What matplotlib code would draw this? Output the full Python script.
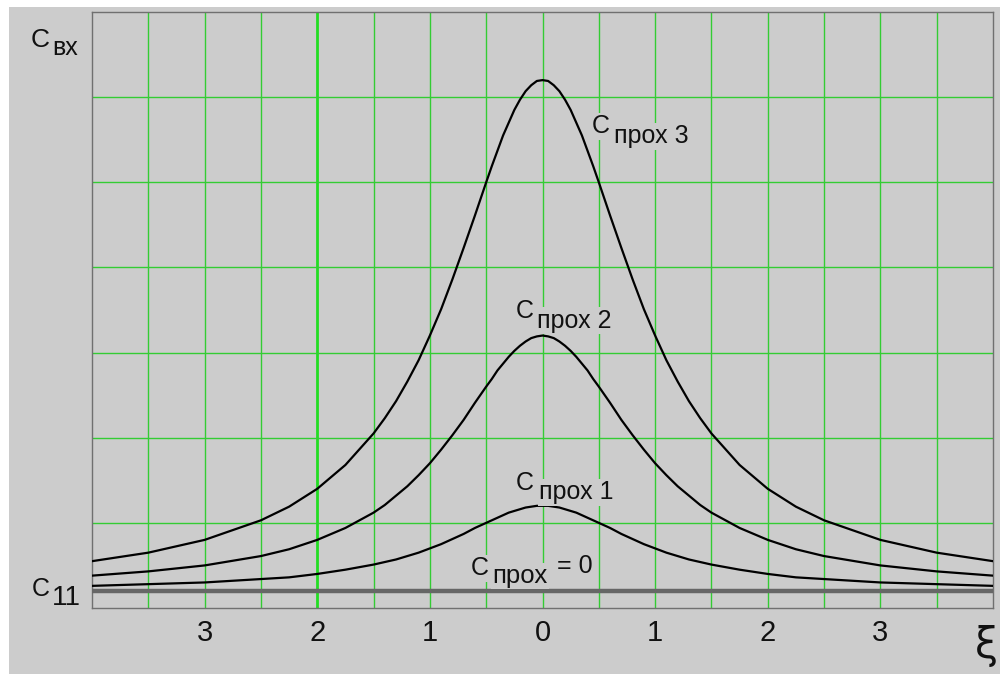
import matplotlib
matplotlib.use("Agg")
import matplotlib.pyplot as plt
from matplotlib.patches import Rectangle

# ---- data ----
xi = [-4.0, -3.5, -3.0, -2.5, -2.25, -2.0, -1.75, -1.5, -1.4, -1.3, -1.2, -1.1,
      -1.0, -0.9, -0.8, -0.7, -0.6, -0.5, -0.45, -0.4, -0.35, -0.3, -0.25, -0.2,
      -0.15, -0.1, -0.05, 0.0,
      0.05, 0.1, 0.15, 0.2, 0.25, 0.3, 0.35, 0.4, 0.45, 0.5, 0.6, 0.7, 0.8, 0.9,
      1.0, 1.1, 1.2, 1.3, 1.4, 1.5, 1.75, 2.0, 2.25, 2.5, 3.0, 3.5, 4.0]

c_prox3 = [0.55, 0.65, 0.80, 1.03, 1.19, 1.40, 1.68, 2.05, 2.23, 2.43, 2.66, 2.91,
           3.20, 3.51, 3.86, 4.23, 4.61, 5.00, 5.19, 5.37, 5.55, 5.70, 5.85, 5.97,
           6.07, 6.14, 6.19, 6.20,
           6.19, 6.14, 6.07, 5.97, 5.85, 5.70, 5.55, 5.37, 5.19, 5.00, 4.61, 4.23, 3.86, 3.51,
           3.20, 2.91, 2.66, 2.43, 2.23, 2.05, 1.68, 1.40, 1.19, 1.03, 0.80, 0.65, 0.55]

c_prox2 = [0.38, 0.43, 0.50, 0.61, 0.69, 0.80, 0.94, 1.12, 1.21, 1.32, 1.43, 1.56,
           1.70, 1.86, 2.03, 2.21, 2.41, 2.60, 2.69, 2.79, 2.87, 2.95, 3.02, 3.08,
           3.13, 3.17, 3.19, 3.20,
           3.19, 3.17, 3.13, 3.08, 3.02, 2.95, 2.87, 2.79, 2.69, 2.60, 2.41, 2.21, 2.03, 1.86,
           1.70, 1.56, 1.43, 1.32, 1.21, 1.12, 0.94, 0.80, 0.69, 0.61, 0.50, 0.43, 0.38]

c_prox1 = [0.26, 0.28, 0.30, 0.34, 0.36, 0.40, 0.45, 0.51, 0.54, 0.57, 0.61, 0.65,
           0.70, 0.75, 0.81, 0.87, 0.94, 1.00, 1.03, 1.06, 1.09, 1.12, 1.14, 1.16,
           1.18, 1.19, 1.20, 1.20,
           1.20, 1.19, 1.18, 1.16, 1.14, 1.12, 1.09, 1.06, 1.03, 1.00, 0.94, 0.87, 0.81, 0.75,
           0.70, 0.65, 0.61, 0.57, 0.54, 0.51, 0.45, 0.40, 0.36, 0.34, 0.30, 0.28, 0.26]

c11 = 0.2

tick_pos = [-3, -2, -1, 0, 1, 2, 3]
tick_labels = ["3", "2", "1", "0", "1", "2", "3"]

# ---- styling ----
W, H = 1008, 674
BG = "#cccccc"
GRID = "#33cc33"
FONT = "Liberation Sans"
TXT = "#111111"

fig = plt.figure(figsize=(W / 100, H / 100), dpi=100, facecolor="white")
fig.add_artist(Rectangle((9 / W, 0), (1000 - 9) / W, 1 - 7 / H,
                         transform=fig.transFigure, facecolor=BG,
                         edgecolor="none", zorder=-10))

ax = fig.add_axes([92 / W, (H - 608) / H, (993 - 92) / W, (608 - 12) / H])
ax.set_facecolor(BG)
ax.set_xlim(-4, 4)
ax.set_ylim(0, 7)

# grid
for k in range(-7, 8):
    v = k * 0.5
    if v == -2:
        ax.axvline(v, color="#22dd22", lw=2.0, zorder=1)
    else:
        ax.axvline(v, color=GRID, lw=1.0, zorder=1)
for yv in range(1, 7):
    ax.axhline(yv, color=GRID, lw=1.0, zorder=1)

# curves
ax.axhline(c11, color="#666666", lw=3.2, zorder=3)
for ys in (c_prox1, c_prox2, c_prox3):
    ax.plot(xi, ys, color="black", lw=1.6, zorder=4,
            solid_joinstyle="round", solid_capstyle="round")

for s in ax.spines.values():
    s.set_color("#707070")
    s.set_linewidth(1.0)

ax.set_yticks([])
ax.set_xticks(tick_pos)
ax.set_xticklabels(tick_labels, fontsize=21, family=FONT, color=TXT)
ax.tick_params(axis="x", length=0, pad=8)

def ptxt(px, py, s, size, **kw):
    fig.text(px / W, 1 - py / H, s, fontsize=size, family=FONT, color=TXT,
             ha="left", va="baseline", **kw)

box = dict(facecolor=BG, edgecolor="none", pad=1.0)

# axis labels
ptxt(31, 47, "C", 19)
ptxt(52, 55, "вх", 18)
ptxt(32, 596, "C", 18)
ptxt(52, 605, "11", 20)
fig.text(986 / W, 1 - 646 / H, "ξ", fontsize=30, family="DejaVu Sans",
         color=TXT, ha="center", va="center")

# curve labels
ptxt(592, 133, "C", 18, bbox=box)
ptxt(614, 143, "прох 3", 18, bbox=box)
ptxt(516, 318, "C", 18, bbox=box)
ptxt(537, 328, "прох 2", 18, bbox=box)
ptxt(516, 490, "C", 18, bbox=box)
ptxt(539, 499, "прох 1", 18, bbox=box)
ptxt(471, 575, "C", 18, bbox=box)
ptxt(492, 583, "прох", 18.5, bbox=box)
ptxt(557, 573, "= 0", 18, bbox=box)

fig.savefig("out.png", dpi=100, facecolor="white")
